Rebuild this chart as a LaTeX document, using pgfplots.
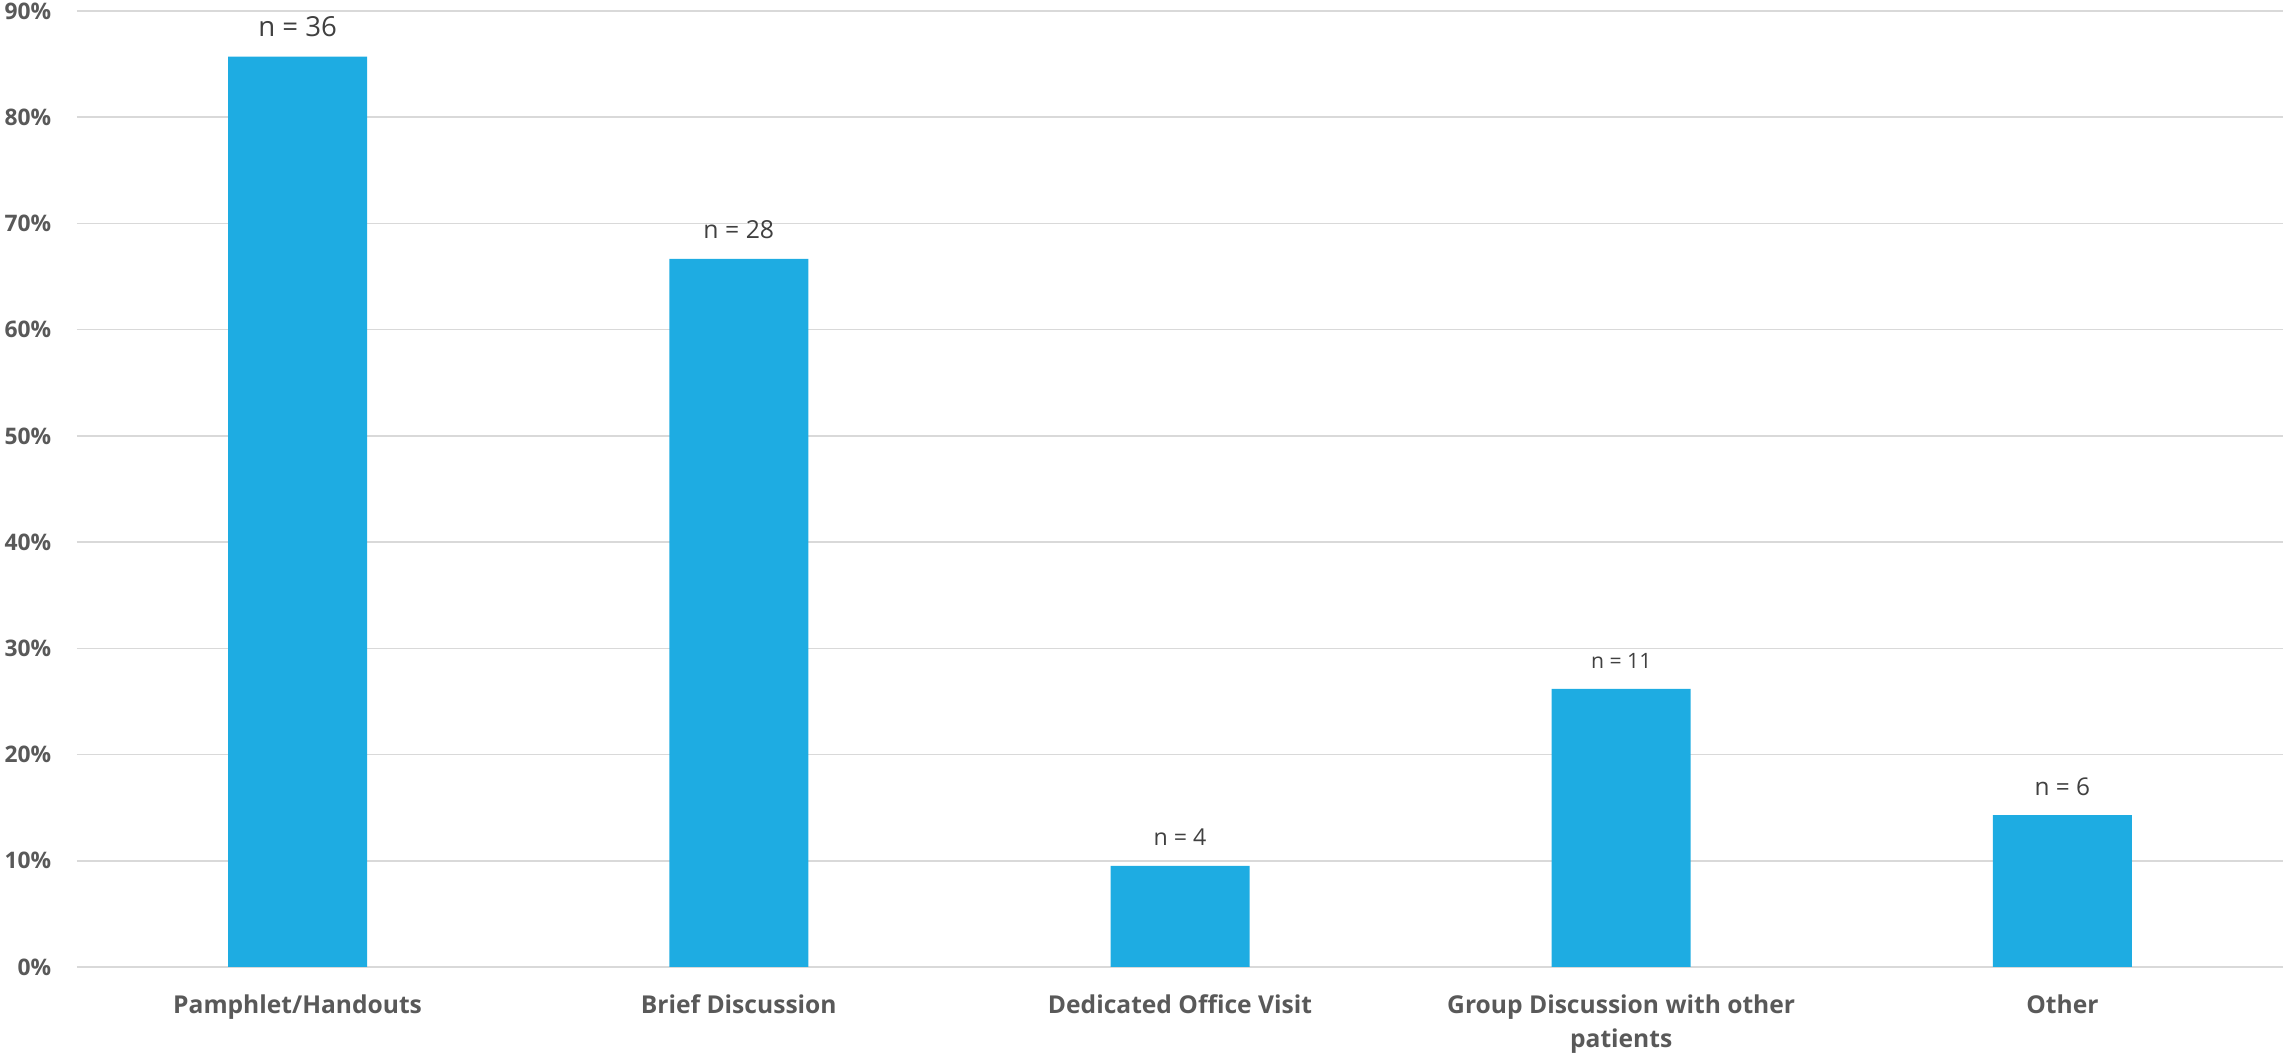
\documentclass[border=0pt]{standalone}
\usepackage{fontspec}
\setmainfont{Open Sans}
\usepackage{pgfplots}
\usepackage{pgfplotstable}
\pgfplotsset{compat=1.18}
\definecolor{barblue}{HTML}{1EACE2}
\definecolor{gridgray}{HTML}{D9D9D9}
\definecolor{ticktext}{HTML}{595959}
\definecolor{labtext}{HTML}{404040}
\pgfplotstableread{
x y
0 85.71
1 66.67
2 9.52
3 26.19
4 14.29
}\datatable
\begin{document}
\begin{tikzpicture}
\path[use as bounding box] (-19.25pt,-22pt) rectangle (552pt,241.75pt);
\begin{axis}[
  at={(0,0)}, anchor=south west,
  scale only axis, width=551.5pt, height=239pt,
  xmin=-0.5, xmax=4.5, ymin=0, ymax=90,
  axis line style={draw=none},
  major tick length=0pt,
  ymajorgrids, grid style={gridgray, line width=0.4pt},
  ytick={0,10,...,90},
  yticklabels={0\%,10\%,20\%,30\%,40\%,50\%,60\%,70\%,80\%,90\%},
  xtick={0,1,2,3,4},
  xticklabels={Pamphlet/Handouts,Brief Discussion,Dedicated Office Visit,{Group Discussion with other\\patients},Other},
  yticklabel style={font=\bfseries\fontsize{5.7}{6.5}\selectfont, text=ticktext, anchor=east, inner sep=0pt, xshift=-6.25pt},
  xticklabel style={font=\bfseries\fontsize{6.15}{8.5}\selectfont, text=ticktext, anchor=north, inner sep=0pt, yshift=-6.8pt, align=center},
  ybar, bar width=34.75pt,
]
\addplot[fill=barblue, draw=none] table[x=x, y=y] {\datatable};
\begin{scope}[every node/.style={anchor=base, inner sep=0pt, text=labtext, yshift=5pt}]
\node[font=\fontsize{6.9}{8}\selectfont] at (axis cs:0,85.71) {n = 36};
\node[font=\fontsize{6.2}{7}\selectfont] at (axis cs:1,66.67) {n = 28};
\node[font=\fontsize{5.8}{7}\selectfont] at (axis cs:2,9.52) {n = 4};
\node[font=\fontsize{5.3}{6}\selectfont] at (axis cs:3,26.19) {n = 11};
\node[font=\fontsize{6.1}{7}\selectfont] at (axis cs:4,14.29) {n = 6};
\end{scope}
\end{axis}
\end{tikzpicture}
\end{document}
